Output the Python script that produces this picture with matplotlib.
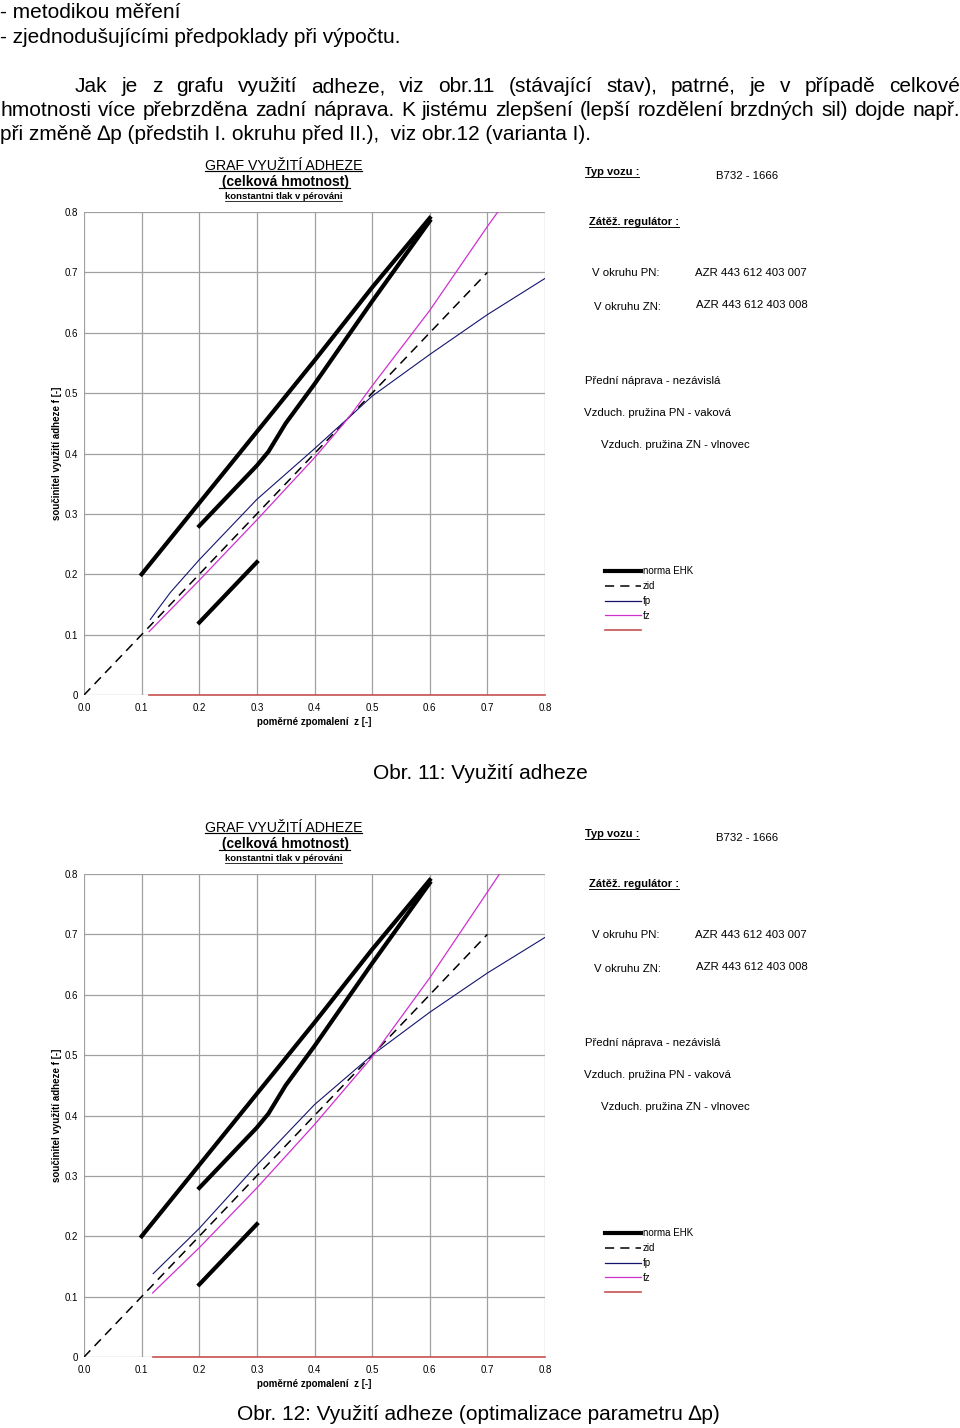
import matplotlib
matplotlib.use("Agg")
import matplotlib.pyplot as plt
from matplotlib.lines import Line2D

W, H = 960, 1428
FONT = ["Liberation Sans", "DejaVu Sans"]
plt.rcParams["font.family"] = FONT

# --- data ---
z_ticks = [0.0, 0.1, 0.2, 0.3, 0.4, 0.5, 0.6, 0.7, 0.8]
x_tick_labels = ["0.0", "0.1", "0.2", "0.3", "0.4", "0.5", "0.6", "0.7", "0.8"]
y_tick_labels = ["0", "0.1", "0.2", "0.3", "0.4", "0.5", "0.6", "0.7", "0.8"]

# EHK limit curves (same in both charts)
ehk_upper_z = [0.1, 0.2, 0.3, 0.4, 0.5, 0.6]
ehk_upper_f = [0.2, 0.318, 0.436, 0.554, 0.675, 0.79]
ehk_mid_z = [0.2, 0.25, 0.3, 0.32, 0.35, 0.4, 0.5, 0.6]
ehk_mid_f = [0.28, 0.33, 0.38, 0.403, 0.45, 0.515, 0.652, 0.785]
ehk_low_z = [0.2, 0.3]
ehk_low_f = [0.12, 0.22]

# ideal adhesion
zid_z = [0.0, 0.7]
zid_f = [0.0, 0.7]

# Obr. 11 - current state
fp11_z = [0.115, 0.15, 0.2, 0.3, 0.4, 0.46, 0.5, 0.6, 0.7, 0.8]
fp11_f = [0.125, 0.17, 0.224, 0.324, 0.408, 0.46, 0.495, 0.564, 0.63, 0.69]
fz11_z = [0.113, 0.2, 0.3, 0.4, 0.46, 0.5, 0.6, 0.7, 0.718]
fz11_f = [0.105, 0.19, 0.29, 0.393, 0.46, 0.512, 0.637, 0.776, 0.80]
red11_z = [0.113, 0.8]
red11_f = [0.0, 0.0]

# Obr. 12 - optimised delta p
fp12_z = [0.12, 0.2, 0.3, 0.4, 0.5, 0.6, 0.7, 0.8]
fp12_f = [0.138, 0.213, 0.318, 0.418, 0.5, 0.571, 0.636, 0.695]
fz12_z = [0.119, 0.2, 0.3, 0.4, 0.5, 0.6, 0.7, 0.721]
fz12_f = [0.106, 0.181, 0.28, 0.385, 0.497, 0.628, 0.77, 0.80]
red12_z = [0.119, 0.8]
red12_f = [0.0, 0.0]

legend_labels = ["norma EHK", "zid", "fp", "fz", ""]

NAVY = "#14146e"
MAGENTA = "#d030d0"
RED = "#c85050"
GRID = "#a0a0a0"

fig = plt.figure(figsize=(W / 100, H / 100), dpi=100)
renderer = fig.canvas.get_renderer()


def fx(x):
    return x / W


def fy(y):
    return 1 - y / H


def text(x, yb, s, size, weight="normal", ha="left", underline=False):
    t = fig.text(fx(x), fy(yb), s, fontsize=size, fontweight=weight,
                 ha=ha, va="baseline", family=FONT)
    if underline:
        bb = t.get_window_extent(renderer)
        yu = fy(yb + size * 100 / 72 * 0.14)
        fig.add_artist(Line2D([fx(bb.x0), fx(bb.x1)], [yu, yu],
                              color="black", lw=size / 12))
    return t


def justify(s, x0, x1, yb, size):
    words = s.split(" ")
    texts = [fig.text(0, 0, w, fontsize=size, va="baseline", family=FONT)
             for w in words]
    widths = [t.get_window_extent(renderer).width for t in texts]
    gap = (x1 - x0 - sum(widths)) / (len(words) - 1)
    x = x0
    for t, w in zip(texts, widths):
        t.set_position((fx(x), fy(yb)))
        x += w + gap


# --- document text above ---
text(0, 18.5, "- metodikou měření", 15)
text(0, 43, "- zjednodušujícími předpoklady při výpočtu.", 15)
justify("Jak je z grafu využití adheze, viz obr.11 (stávající stav), patrné, "
        "je v případě celkové", 75, 960, 92.5, 15)
justify("hmotnosti více přebrzděna zadní náprava. K jistému zlepšení "
        "(lepší rozdělení brzdných sil) dojde např.", 0, 960, 116, 15)
text(0, 140, "při změně ∆p (předstih I. okruhu před II.),  viz obr.12 (varianta I).", 15)


def draw_chart(off, fp_z, fp_f, fz_z, fz_f, red_z, red_f):
    top, bottom = 212 + off, 695 + off
    left, right = 84, 545
    ax = fig.add_axes([fx(left), fy(bottom), (right - left) / W, (bottom - top) / H])
    ax.set_xlim(0, 0.8)
    ax.set_ylim(0, 0.8)
    for s in ax.spines.values():
        s.set_visible(False)
    ax.set_xticks(z_ticks)
    ax.set_xticklabels(x_tick_labels)
    ax.set_yticks(z_ticks)
    ax.set_yticklabels(y_tick_labels)
    ax.tick_params(length=0, labelsize=7)
    ax.tick_params(axis="x", pad=5.5)
    ax.tick_params(axis="y", pad=4)
    ax.grid(True, color=GRID, lw=0.9)
    ax.set_axisbelow(True)

    ax.plot(ehk_upper_z, ehk_upper_f, color="black", lw=3)
    ax.plot(ehk_mid_z, ehk_mid_f, color="black", lw=3)
    ax.plot(ehk_low_z, ehk_low_f, color="black", lw=3)
    ax.plot(zid_z, zid_f, color="black", lw=1.1, dashes=(6, 4))
    ax.plot(fp_z, fp_f, color=NAVY, lw=0.8)
    ax.plot(fz_z, fz_f, color=MAGENTA, lw=0.9)
    ax.plot(red_z, red_f, color=RED, lw=1.2, clip_on=False)

    ax.text(-0.058, 0.5, "součinitel využití adheze f [-]", transform=ax.transAxes,
            rotation=90, fontsize=7, fontweight="bold", ha="center", va="center")
    ax.text(0.5, -0.056, "poměrné zpomalení  z [-]", transform=ax.transAxes,
            fontsize=7, fontweight="bold", ha="center", va="center")

    # headings
    text(283.5, 169.5 + off, "GRAF VYUŽITÍ ADHEZE", 10.2, ha="center", underline=True)
    text(284, 186 + off, " (celková hmotnost)", 10, weight="bold", ha="center", underline=True)
    text(283.5, 199.3 + off, "konstantni tlak v pérováni", 6.8, weight="bold",
         ha="center", underline=True)

    # vehicle info
    text(585, 175 + off, "Typ vozu :", 8, weight="bold", underline=True)
    text(716, 179 + off, "B732 - 1666", 8.2)
    text(589, 225 + off, "Zátěž. regulátor :", 8, weight="bold", underline=True)
    text(592, 276 + off, "V okruhu PN:", 8.2)
    text(695, 276 + off, "AZR 443 612 403 007", 8.2)
    text(594, 309.5 + off, "V okruhu ZN:", 8.2)
    text(696, 308 + off, "AZR 443 612 403 008", 8.2)
    text(585, 383.5 + off, "Přední náprava - nezávislá", 8.2)
    text(584, 415.5 + off, "Vzduch. pružina PN - vaková", 8.2)
    text(601, 447.5 + off, "Vzduch. pružina ZN - vlnovec", 8.2)

    # legend
    styles = [dict(color="black", lw=3),
              dict(color="black", lw=1.1, dashes=(6, 4)),
              dict(color=NAVY, lw=0.9),
              dict(color=MAGENTA, lw=0.9),
              dict(color=RED, lw=1.2)]
    for i, (lab, st) in enumerate(zip(legend_labels, styles)):
        yc = 571 + off + i * 14.8
        fig.add_artist(Line2D([fx(605), fx(641)], [fy(yc), fy(yc)], **st))
        if lab:
            text(643, yc + 3.5, lab, 7)


draw_chart(0, fp11_z, fp11_f, fz11_z, fz11_f, red11_z, red11_f)
text(480, 779, "Obr. 11: Využití adheze", 15, ha="center")

draw_chart(662, fp12_z, fp12_f, fz12_z, fz12_f, red12_z, red12_f)
text(478, 1420, "Obr. 12: Využití adheze (optimalizace parametru ∆p)", 15, ha="center")

fig.savefig("out.png", dpi=100)
